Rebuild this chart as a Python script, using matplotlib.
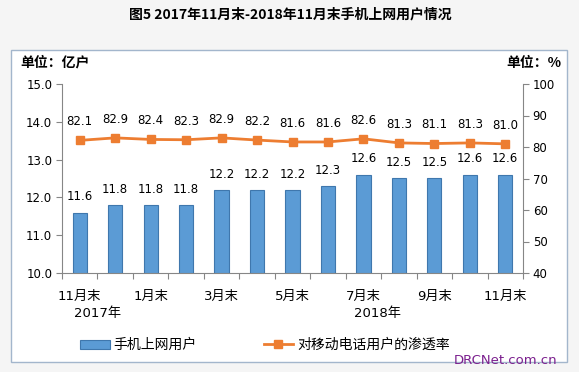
import matplotlib
matplotlib.use("Agg")
from matplotlib import pyplot as plt
from matplotlib.patches import Rectangle, Patch
from matplotlib.lines import Line2D
import matplotlib.transforms as mtransforms

plt.rcParams['font.family'] = ['DejaVu Sans', 'Noto Sans CJK SC']

months = ["11月末", "12月末", "1月末", "2月末", "3月末", "4月末", "5月末",
          "6月末", "7月末", "8月末", "9月末", "10月末", "11月末"]
users = [11.6, 11.8, 11.8, 11.8, 12.2, 12.2, 12.2, 12.3, 12.6, 12.5, 12.5, 12.6, 12.6]
rate = [82.1, 82.9, 82.4, 82.3, 82.9, 82.2, 81.6, 81.6, 82.6, 81.3, 81.1, 81.3, 81.0]
years = ["2017年", "2018年"]
year_pos = [0.5, 8.4]

bar_color = '#5b9bd5'
line_color = '#ed7d31'
spine_color = '#868686'

fig = plt.figure(figsize=(5.79, 3.72), dpi=100)
fig.patch.set_facecolor('#f5f5f5')

# white frame round the chart
fig.patches.append(Rectangle((11 / 579, 1 - 362 / 372), 556 / 579, 312 / 372,
                             transform=fig.transFigure, facecolor='white',
                             edgecolor='#a3b6cc', linewidth=1.0, zorder=-1))

ax = fig.add_axes([62 / 579, 1 - 273 / 372, 461 / 579, 189 / 372])
ax.patch.set_alpha(0)
xs = list(range(len(months)))
ax.bar(xs, users, width=0.4, color=bar_color, edgecolor='#3f77ad', linewidth=0.8, zorder=2)
ax.set_xlim(-0.5, len(months) - 0.5)
ax.set_ylim(10, 15)
ax.set_yticks([10, 11, 12, 13, 14, 15])
ax.set_yticklabels(["%.1f" % v for v in [10, 11, 12, 13, 14, 15]], fontsize=8.5)

ax.set_xticks([i - 0.5 for i in range(len(months) + 1)])
ax.set_xticklabels([])
ax.set_xticks(xs, minor=True)
ax.set_xticklabels([m if i % 2 == 0 else "" for i, m in enumerate(months)], minor=True, fontsize=9.5)
ax.tick_params(axis='x', which='major', length=4, color=spine_color, direction='out')
ax.tick_params(axis='x', which='minor', length=0, pad=12)
ax.tick_params(axis='y', length=4, color=spine_color, pad=3)

for s in ['top', 'right']:
    ax.spines[s].set_visible(False)
for s in ['left', 'bottom']:
    ax.spines[s].set_color(spine_color)

trans = mtransforms.blended_transform_factory(ax.transData, ax.transAxes)
for y, p in zip(years, year_pos):
    ax.text(p, -0.215, y, transform=trans, ha='center', va='center', fontsize=9.5)

for x, v in zip(xs, users):
    ax.annotate("%.1f" % v, (x, v), xytext=(0, 11.4), textcoords='offset points',
                ha='center', va='center', fontsize=8.5)

ax2 = ax.twinx()
ax2.plot(xs, rate, color=line_color, linewidth=2, marker='s', markersize=5.5, zorder=3)
ax2.set_ylim(40, 100)
ax2.set_yticks(range(40, 101, 10))
ax2.tick_params(axis='y', length=4, color=spine_color, labelsize=8.5, pad=3)
for s in ['top', 'left']:
    ax2.spines[s].set_visible(False)
ax2.spines['right'].set_color(spine_color)
ax2.spines['bottom'].set_visible(False)

for x, v in zip(xs, rate):
    ax2.annotate("%.1f" % v, (x, v), xytext=(0, 13.5), textcoords='offset points',
                 ha='center', va='center', fontsize=8.5)

fig.text(290 / 579, 1 - 14 / 372, "图5 2017年11月末-2018年11月末手机上网用户情况",
         ha='center', va='center', fontsize=10, fontweight='bold', family=['Noto Sans CJK SC'])
fig.text(20 / 579, 1 - 63 / 372, "单位：亿户", ha='left', va='center',
         fontsize=10, fontweight='bold', family=['Noto Sans CJK SC'])
fig.text(561 / 579, 1 - 63 / 372, "单位：%", ha='right', va='center',
         fontsize=10, fontweight='bold', family=['Noto Sans CJK SC'])

handles = [Patch(facecolor=bar_color, edgecolor='#3f77ad', linewidth=0.8),
           Line2D([0], [0], color=line_color, linewidth=2, marker='s', markersize=5.5)]
fig.legend(handles, ["手机上网用户", "对移动电话用户的渗透率"], loc='center',
           bbox_to_anchor=(265 / 579, 1 - 345 / 372), ncol=2, frameon=False,
           fontsize=10, handlelength=2.1, handleheight=0.6, handletextpad=0.3,
           columnspacing=4.8, borderpad=0)

fig.text(557 / 579, 1 - 361 / 372, "DRCNet.com.cn", ha='right', va='center',
         fontsize=9.5, color='#7b1f8e')

fig.savefig("out.png", dpi=100, facecolor=fig.get_facecolor())
